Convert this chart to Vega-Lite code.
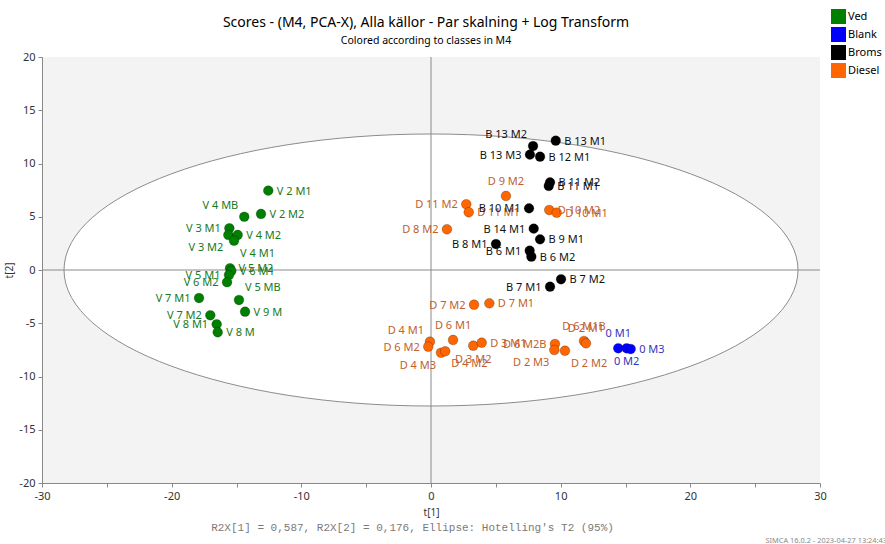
{
  "$schema": "https://vega.github.io/schema/vega-lite/v6.json",
  "width": 778,
  "height": 426,
  "autosize": "none",
  "padding": {"left": 42, "top": 57, "right": 65, "bottom": 61},
  "background": "white",
  "title": {
    "text": "Scores - (M4, PCA-X), Alla källor - Par skalning + Log Transform",
    "subtitle": "Colored according to classes in M4",
    "fontSize": 14,
    "fontWeight": "normal",
    "subtitleFontSize": 10.5,
    "color": "#000",
    "subtitleColor": "#000",
    "anchor": "middle",
    "frame": "group",
    "offset": 10,
    "subtitlePadding": 6,
    "dx": -5,
    "dy": 47
  },
  "data": {"values": [
    {"name": "V 2 M1", "cls": "Ved", "t1": -12.55, "t2": 7.45},
    {"name": "V 2 M2", "cls": "Ved", "t1": -13.11, "t2": 5.26},
    {"name": "V 4 MB", "cls": "Ved", "t1": -14.40, "t2": 5.00},
    {"name": "V 3 M1", "cls": "Ved", "t1": -15.55, "t2": 3.92},
    {"name": "V 3 M2", "cls": "Ved", "t1": -15.63, "t2": 3.29},
    {"name": "V 4 M2", "cls": "Ved", "t1": -14.91, "t2": 3.29},
    {"name": "V 4 M1", "cls": "Ved", "t1": -15.19, "t2": 2.75},
    {"name": "V 5 M2", "cls": "Ved", "t1": -15.50, "t2": 0.16},
    {"name": "V 6 M1", "cls": "Ved", "t1": -15.40, "t2": -0.09},
    {"name": "V 5 M1", "cls": "Ved", "t1": -15.58, "t2": -0.47},
    {"name": "V 6 M2", "cls": "Ved", "t1": -15.73, "t2": -1.15},
    {"name": "V 5 MB", "cls": "Ved", "t1": -14.81, "t2": -2.82},
    {"name": "V 7 M1", "cls": "Ved", "t1": -17.89, "t2": -2.63},
    {"name": "V 9 M", "cls": "Ved", "t1": -14.34, "t2": -3.92},
    {"name": "V 7 M2", "cls": "Ved", "t1": -17.02, "t2": -4.25},
    {"name": "V 8 M1", "cls": "Ved", "t1": -16.53, "t2": -5.10},
    {"name": "V 8 M", "cls": "Ved", "t1": -16.45, "t2": -5.85},
    {"name": "B 13 M1", "cls": "Broms", "t1": 9.62, "t2": 12.14},
    {"name": "B 13 M2", "cls": "Broms", "t1": 7.87, "t2": 11.64},
    {"name": "B 13 M3", "cls": "Broms", "t1": 7.63, "t2": 10.83},
    {"name": "B 12 M1", "cls": "Broms", "t1": 8.41, "t2": 10.64},
    {"name": "B 11 M2", "cls": "Broms", "t1": 9.18, "t2": 8.23},
    {"name": "B 11 M1", "cls": "Broms", "t1": 9.08, "t2": 7.89},
    {"name": "B 10 M1", "cls": "Broms", "t1": 7.56, "t2": 5.79},
    {"name": "B 14 M1", "cls": "Broms", "t1": 7.92, "t2": 3.88},
    {"name": "B 9 M1", "cls": "Broms", "t1": 8.41, "t2": 2.88},
    {"name": "B 8 M1", "cls": "Broms", "t1": 5.01, "t2": 2.44},
    {"name": "B 6 M1", "cls": "Broms", "t1": 7.61, "t2": 1.81},
    {"name": "B 6 M2", "cls": "Broms", "t1": 7.74, "t2": 1.25},
    {"name": "B 7 M2", "cls": "Broms", "t1": 10.03, "t2": -0.87},
    {"name": "B 7 M1", "cls": "Broms", "t1": 9.18, "t2": -1.57},
    {"name": "D 9 M2", "cls": "Diesel", "t1": 5.78, "t2": 6.95},
    {"name": "D 11 M2", "cls": "Diesel", "t1": 2.72, "t2": 6.17},
    {"name": "D 11 M1", "cls": "Diesel", "t1": 2.91, "t2": 5.42},
    {"name": "D 10 M2", "cls": "Diesel", "t1": 9.12, "t2": 5.63},
    {"name": "D 10 M1", "cls": "Diesel", "t1": 9.69, "t2": 5.38},
    {"name": "D 8 M2", "cls": "Diesel", "t1": 1.23, "t2": 3.82},
    {"name": "D 7 M1", "cls": "Diesel", "t1": 4.50, "t2": -3.13},
    {"name": "D 7 M2", "cls": "Diesel", "t1": 3.32, "t2": -3.26},
    {"name": "D 6 M1", "cls": "Diesel", "t1": 1.70, "t2": -6.57},
    {"name": "D 4 M1", "cls": "Diesel", "t1": -0.08, "t2": -6.73},
    {"name": "D 6 M2", "cls": "Diesel", "t1": -0.21, "t2": -7.20},
    {"name": "D 4 M3", "cls": "Diesel", "t1": 0.77, "t2": -7.77},
    {"name": "D 4 M2", "cls": "Diesel", "t1": 1.10, "t2": -7.63},
    {"name": "D 3 M2", "cls": "Diesel", "t1": 3.26, "t2": -7.11},
    {"name": "D 3 M1", "cls": "Diesel", "t1": 3.91, "t2": -6.83},
    {"name": "D 6 M2B", "cls": "Diesel", "t1": 9.56, "t2": -6.95},
    {"name": "D 2 M3", "cls": "Diesel", "t1": 9.51, "t2": -7.51},
    {"name": "D 2 M2", "cls": "Diesel", "t1": 10.33, "t2": -7.58},
    {"name": "D 6 M1B", "cls": "Diesel", "t1": 11.80, "t2": -6.67},
    {"name": "D 2 M1", "cls": "Diesel", "t1": 11.95, "t2": -6.88},
    {"name": "0 M1", "cls": "Blank", "t1": 14.44, "t2": -7.35},
    {"name": "0 M2", "cls": "Blank", "t1": 15.09, "t2": -7.35},
    {"name": "0 M3", "cls": "Blank", "t1": 15.40, "t2": -7.42}
  ]},
  "resolve": {"axis": {"x": "independent", "y": "independent"}},
  "layer": [
    {
      "data": {"values": [{}]},
      "mark": {"type": "point", "shape": "M 1 0 C 1 0.2047 0.5523 0.3706 0 0.3706 C -0.5523 0.3706 -1 0.2047 -1 0 C -1 -0.2047 -0.5523 -0.3706 0 -0.3706 C 0.5523 -0.3706 1 -0.2047 1 0 Z", "size": 538756, "filled": true, "fill": "white", "stroke": "#8c8c8c", "strokeWidth": 1, "opacity": 1},
      "encoding": {
        "x": {"datum": 0, "type": "quantitative", "scale": {"domain": [-30, 30], "nice": false, "zero": false}, "axis": null},
        "y": {"datum": 0, "type": "quantitative", "scale": {"domain": [-20, 20], "nice": false, "zero": false}, "axis": null}
      }
    },
    {
      "data": {"values": [{}]},
      "mark": {"type": "rule", "color": "#8a8a8a", "strokeWidth": 1},
      "encoding": {
        "x": {"datum": 0, "type": "quantitative", "scale": {"domain": [-30, 30], "nice": false, "zero": false}, "axis": null}
      }
    },
    {
      "data": {"values": [{}]},
      "mark": {"type": "rule", "color": "#8a8a8a", "strokeWidth": 1},
      "encoding": {
        "y": {"datum": 0, "type": "quantitative", "scale": {"domain": [-20, 20], "nice": false, "zero": false}, "axis": null}
      }
    },
    {
      "mark": {"type": "point", "filled": true, "size": 95, "opacity": 1, "stroke": "#000", "strokeOpacity": 0.3, "strokeWidth": 0.8},
      "encoding": {
        "x": {"field": "t1", "type": "quantitative", "scale": {"domain": [-30, 30], "nice": false, "zero": false},
          "axis": {"orient": "bottom", "title": "t[1]", "values": [-30, -25, -20, -15, -10, -5, 0, 5, 10, 15, 20, 25, 30],
            "labelExpr": "datum.value % 10 === 0 ? '' + datum.value : ''",
            "gridColor": {"condition": {"test": "datum.value % 10 !== 0 || datum.value === 0", "value": "transparent"}, "value": "#dcdcdc"},
            "titlePadding": 6,
            "zindex": 1}},
        "y": {"field": "t2", "type": "quantitative", "scale": {"domain": [-20, 20], "nice": false, "zero": false},
          "axis": {"orient": "left", "title": "t[2]", "values": [-20, -15, -10, -5, 0, 5, 10, 15, 20],
            "labelExpr": "'' + datum.value",
            "gridColor": {"condition": {"test": "datum.value === 0", "value": "transparent"}, "value": "#dcdcdc"},
            "zindex": 1}},
        "color": {"field": "cls", "type": "nominal",
          "scale": {"domain": ["Ved", "Blank", "Broms", "Diesel"], "range": ["#008000", "#0000ff", "#000000", "#ff6600"]},
          "legend": {"orient": "none", "legendX": 789, "legendY": -48, "title": null, "symbolType": "square", "symbolSize": 225,
            "symbolStrokeWidth": 0, "symbolOpacity": 1, "labelFontSize": 11, "labelColor": "#000", "rowPadding": 3, "labelOffset": 2, "padding": 0}}
      }
    },
    {
      "transform": [{"filter": {"field": "name", "oneOf": ["V 2 M1", "V 2 M2", "V 4 M2", "V 5 M2", "V 6 M1", "V 9 M", "V 8 M", "B 13 M1", "B 12 M1", "B 11 M2", "B 11 M1", "B 9 M1", "B 6 M2", "B 7 M2", "D 11 M1", "D 10 M2", "D 10 M1", "D 7 M1", "D 3 M1", "0 M3"]}}],
      "mark": {"type": "text", "align": "left", "baseline": "middle", "dx": 8.5, "dy": 1, "fontSize": 11},
      "encoding": {
        "x": {"field": "t1", "type": "quantitative", "scale": {"domain": [-30, 30], "nice": false, "zero": false},
          "axis": {"orient": "bottom", "title": "R2X[1] = 0,587, R2X[2] = 0,176, Ellipse: Hotelling's T2 (95%)", "labels": false, "ticks": false, "domain": false, "grid": false,
            "titleFont": "Liberation Mono", "titleFontSize": 11, "titleFontWeight": "normal", "titleColor": "#7a7a7a", "titleX": 370, "titleY": 44, "titleBaseline": "middle", "titleAlign": "center"}},
        "y": {"field": "t2", "type": "quantitative", "scale": {"domain": [-20, 20], "nice": false, "zero": false},
          "axis": {"orient": "right", "title": "SIMCA 16.0.2 - 2023-04-27 13:24:43 (UTC+2)", "labels": false, "ticks": false, "domain": false, "grid": false,
            "titleAngle": 0, "titleFontSize": 7.4, "titleFontWeight": "normal", "titleColor": "#8a8a8a", "titleX": -55, "titleY": 483, "titleAlign": "left", "titleBaseline": "middle"}},
        "text": {"field": "name"},
        "color": {"condition": [{"test": "datum.cls === 'Ved'", "value": "#207820"}, {"test": "datum.cls === 'Diesel'", "value": "#c0602c"}, {"test": "datum.cls === 'Blank'", "value": "#3434b8"}], "value": "#111111"}
      }
    },
    {
      "transform": [{"filter": {"field": "name", "oneOf": ["V 3 M1", "V 5 M1", "V 6 M2", "V 7 M1", "V 7 M2", "V 8 M1", "B 13 M3", "B 10 M1", "B 14 M1", "B 8 M1", "B 6 M1", "B 7 M1", "D 11 M2", "D 8 M2", "D 7 M2", "D 6 M2", "D 6 M2B"]}}],
      "mark": {"type": "text", "align": "right", "baseline": "middle", "dx": -8.5, "dy": 1, "fontSize": 11},
      "encoding": {
        "x": {"field": "t1", "type": "quantitative", "scale": {"domain": [-30, 30], "nice": false, "zero": false}, "axis": null},
        "y": {"field": "t2", "type": "quantitative", "scale": {"domain": [-20, 20], "nice": false, "zero": false}, "axis": null},
        "text": {"field": "name"},
        "color": {"condition": [{"test": "datum.cls === 'Ved'", "value": "#207820"}, {"test": "datum.cls === 'Diesel'", "value": "#c0602c"}, {"test": "datum.cls === 'Blank'", "value": "#3434b8"}], "value": "#111111"}
      }
    },
    {
      "transform": [{"filter": {"field": "name", "oneOf": ["V 4 MB", "B 13 M2", "D 4 M1"]}}],
      "mark": {"type": "text", "align": "right", "baseline": "middle", "dx": -6, "dy": -11, "fontSize": 11},
      "encoding": {
        "x": {"field": "t1", "type": "quantitative", "scale": {"domain": [-30, 30], "nice": false, "zero": false}, "axis": null},
        "y": {"field": "t2", "type": "quantitative", "scale": {"domain": [-20, 20], "nice": false, "zero": false}, "axis": null},
        "text": {"field": "name"},
        "color": {"condition": [{"test": "datum.cls === 'Ved'", "value": "#207820"}, {"test": "datum.cls === 'Diesel'", "value": "#c0602c"}, {"test": "datum.cls === 'Blank'", "value": "#3434b8"}], "value": "#111111"}
      }
    },
    {
      "transform": [{"filter": {"field": "name", "oneOf": ["V 5 MB"]}}],
      "mark": {"type": "text", "align": "left", "baseline": "middle", "dx": 6, "dy": -12, "fontSize": 11},
      "encoding": {
        "x": {"field": "t1", "type": "quantitative", "scale": {"domain": [-30, 30], "nice": false, "zero": false}, "axis": null},
        "y": {"field": "t2", "type": "quantitative", "scale": {"domain": [-20, 20], "nice": false, "zero": false}, "axis": null},
        "text": {"field": "name"},
        "color": {"condition": [{"test": "datum.cls === 'Ved'", "value": "#207820"}, {"test": "datum.cls === 'Diesel'", "value": "#c0602c"}, {"test": "datum.cls === 'Blank'", "value": "#3434b8"}], "value": "#111111"}
      }
    },
    {
      "transform": [{"filter": {"field": "name", "oneOf": ["V 3 M2", "D 4 M3", "D 2 M3"]}}],
      "mark": {"type": "text", "align": "right", "baseline": "middle", "dx": -5, "dy": 13, "fontSize": 11},
      "encoding": {
        "x": {"field": "t1", "type": "quantitative", "scale": {"domain": [-30, 30], "nice": false, "zero": false}, "axis": null},
        "y": {"field": "t2", "type": "quantitative", "scale": {"domain": [-20, 20], "nice": false, "zero": false}, "axis": null},
        "text": {"field": "name"},
        "color": {"condition": [{"test": "datum.cls === 'Ved'", "value": "#207820"}, {"test": "datum.cls === 'Diesel'", "value": "#c0602c"}, {"test": "datum.cls === 'Blank'", "value": "#3434b8"}], "value": "#111111"}
      }
    },
    {
      "transform": [{"filter": {"field": "name", "oneOf": ["V 4 M1", "D 4 M2", "D 2 M2"]}}],
      "mark": {"type": "text", "align": "left", "baseline": "middle", "dx": 6, "dy": 13, "fontSize": 11},
      "encoding": {
        "x": {"field": "t1", "type": "quantitative", "scale": {"domain": [-30, 30], "nice": false, "zero": false}, "axis": null},
        "y": {"field": "t2", "type": "quantitative", "scale": {"domain": [-20, 20], "nice": false, "zero": false}, "axis": null},
        "text": {"field": "name"},
        "color": {"condition": [{"test": "datum.cls === 'Ved'", "value": "#207820"}, {"test": "datum.cls === 'Diesel'", "value": "#c0602c"}, {"test": "datum.cls === 'Blank'", "value": "#3434b8"}], "value": "#111111"}
      }
    },
    {
      "transform": [{"filter": {"field": "name", "oneOf": ["D 9 M2", "D 6 M1", "D 6 M1B", "D 2 M1", "0 M1"]}}],
      "mark": {"type": "text", "align": "center", "baseline": "middle", "dx": 0, "dy": -14, "fontSize": 11},
      "encoding": {
        "x": {"field": "t1", "type": "quantitative", "scale": {"domain": [-30, 30], "nice": false, "zero": false}, "axis": null},
        "y": {"field": "t2", "type": "quantitative", "scale": {"domain": [-20, 20], "nice": false, "zero": false}, "axis": null},
        "text": {"field": "name"},
        "color": {"condition": [{"test": "datum.cls === 'Ved'", "value": "#207820"}, {"test": "datum.cls === 'Diesel'", "value": "#c0602c"}, {"test": "datum.cls === 'Blank'", "value": "#3434b8"}], "value": "#111111"}
      }
    },
    {
      "transform": [{"filter": {"field": "name", "oneOf": ["D 3 M2", "0 M2"]}}],
      "mark": {"type": "text", "align": "center", "baseline": "middle", "dx": 0, "dy": 14, "fontSize": 11},
      "encoding": {
        "x": {"field": "t1", "type": "quantitative", "scale": {"domain": [-30, 30], "nice": false, "zero": false}, "axis": null},
        "y": {"field": "t2", "type": "quantitative", "scale": {"domain": [-20, 20], "nice": false, "zero": false}, "axis": null},
        "text": {"field": "name"},
        "color": {"condition": [{"test": "datum.cls === 'Ved'", "value": "#207820"}, {"test": "datum.cls === 'Diesel'", "value": "#c0602c"}, {"test": "datum.cls === 'Blank'", "value": "#3434b8"}], "value": "#111111"}
      }
    }
  ],
  "config": {
    "font": "Noto Sans",
    "view": {"fill": "#f3f3f3", "stroke": null},
    "axis": {
      "tickSize": 4,
      "tickColor": "#888888",
      "domainColor": "#888888",
      "labelFontSize": 11,
      "labelColor": "#333333",
      "labelPadding": 3,
      "labelFlush": false,
      "labelOverlap": false,
      "titleFontSize": 10,
      "titleFontWeight": "normal",
      "titleColor": "#333333",
      "titlePadding": 4,
      "gridWidth": 1
    }
  }
}
